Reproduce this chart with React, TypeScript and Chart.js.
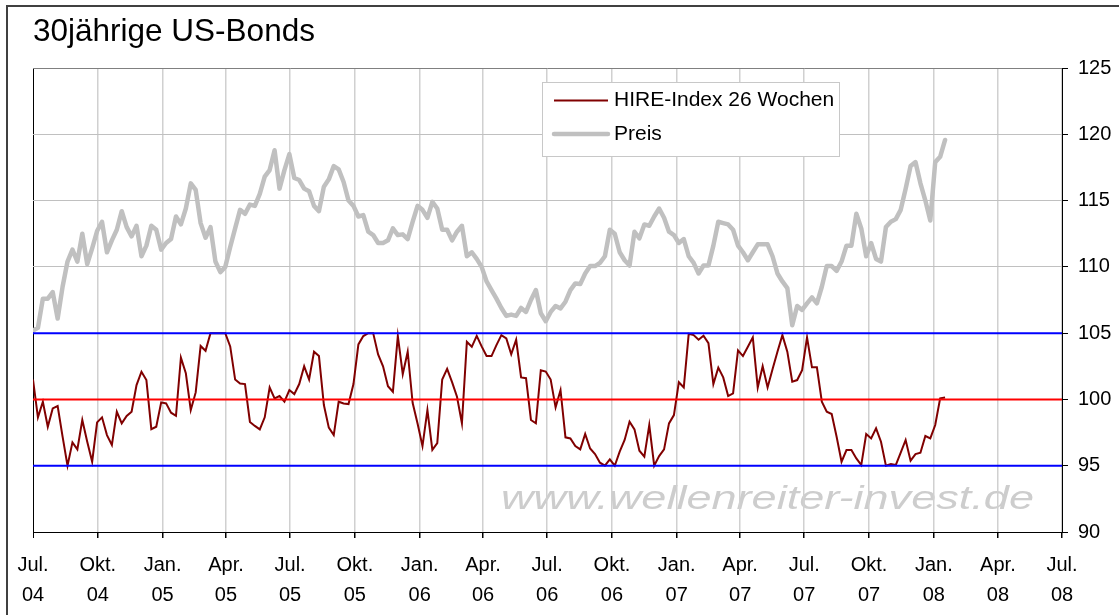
import React, { useEffect, useRef } from "react";
import { Chart, registerables } from "chart.js";

Chart.register(...registerables);

const FONT = "'Liberation Sans', Arial, Helvetica, sans-serif";

const TITLE = "30jährige US-Bonds";
const HIRE_LABEL = "HIRE-Index 26 Wochen";
const PREIS_LABEL = "Preis";
const WATERMARK = "www.wellenreiter-invest.de";

// x axis: days since 1 Jul 2004, quarterly ticks
const QUARTER_DAYS = [0, 92, 184, 274, 365, 457, 549, 639, 730, 822, 914, 1004, 1095, 1187, 1279, 1370, 1461];
const QUARTER_LABELS = [
  ["Jul.", "04"], ["Okt.", "04"], ["Jan.", "05"], ["Apr.", "05"],
  ["Jul.", "05"], ["Okt.", "05"], ["Jan.", "06"], ["Apr.", "06"],
  ["Jul.", "06"], ["Okt.", "06"], ["Jan.", "07"], ["Apr.", "07"],
  ["Jul.", "07"], ["Okt.", "07"], ["Jan.", "08"], ["Apr.", "08"],
  ["Jul.", "08"],
];
const DAYS_PER_WEEK = 7;

const Y_TICKS = [90, 95, 100, 105, 110, 115, 120, 125];
const BLUE_LEVELS = [95, 105];
const RED_LEVEL = 100;

// weekly values, starting the first week of July 2004
const PREIS = [
  105.2, 105.4, 107.6, 107.6, 108.1, 106.1, 108.5, 110.4, 111.3, 110.4,
  112.5, 110.2, 111.4, 112.7, 113.4, 111.1, 112.0, 112.8, 114.2, 113.0,
  112.3, 113.1, 110.8, 111.6, 113.1, 112.8, 111.3, 111.8, 112.1, 113.8,
  113.2, 114.4, 116.3, 115.8, 113.3, 112.2, 113.0, 110.4, 109.6, 110.0,
  111.5, 112.9, 114.3, 114.0, 114.7, 114.6, 115.5, 116.8, 117.3, 118.8,
  115.9, 117.3, 118.5, 116.7, 116.55, 115.9, 115.7, 114.6, 114.2, 116.05,
  116.6, 117.6, 117.35, 116.4, 115.0, 114.6, 113.8, 113.9, 112.65, 112.4,
  111.8, 111.8, 112.0, 112.9, 112.4, 112.45, 112.1, 113.4, 114.6, 114.3,
  113.7, 114.9, 114.4, 112.8, 112.8, 112.0, 112.65, 113.1, 110.8, 111.1,
  110.6, 110.0, 108.9, 108.25, 107.6, 106.9, 106.3, 106.4, 106.3, 106.9,
  106.6, 107.5, 108.25, 106.5, 105.9, 106.6, 107.05, 106.87, 107.37, 108.25,
  108.75, 108.7, 109.5, 110.06, 110.06, 110.3, 110.8, 112.8, 112.5, 111.1,
  110.5, 110.1, 112.65, 112.15, 113.2, 113.1, 113.8, 114.4, 113.7, 112.65,
  112.4, 111.8, 112.1, 110.8, 110.3, 109.5, 110.1, 110.1, 111.6, 113.4,
  113.3, 113.2, 112.8, 111.6, 111.1, 110.5, 111.1, 111.7, 111.7, 111.7,
  110.8, 109.5, 108.9, 108.4, 105.6, 107.05, 106.75, 107.25, 107.7, 107.25,
  108.5, 110.06, 110.06, 109.7, 110.4, 111.6, 111.6, 114.0, 112.9, 110.8,
  111.8, 110.6, 110.4, 113.0, 113.4, 113.6, 114.3, 115.9, 117.6, 117.9,
  116.3, 115.0, 113.5, 117.9, 118.3, 119.57,
];

const HIRE = [
  101.5, 98.65, 99.83, 97.94, 99.32, 99.5, 97.19, 95.0, 96.76, 96.23,
  98.45, 96.81, 95.3, 98.27, 98.65, 97.31, 96.56, 99.07, 98.19, 98.75,
  99.07, 101.08, 102.09, 101.46, 97.76, 97.94, 99.78, 99.7, 99.0, 98.77,
  103.15, 101.97, 99.2, 100.53, 104.03, 103.67, 105.0, 105.0, 105.0, 105.0,
  104.0, 101.5, 101.2, 101.16, 98.3, 98.0, 97.74, 98.65, 100.9, 100.08,
  100.26, 99.83, 100.71, 100.4, 101.16, 102.5, 101.5, 103.6, 103.27, 99.58,
  97.87, 97.31, 99.83, 99.7, 99.65, 101.16, 104.15, 104.78, 105.0, 105.0,
  103.4, 102.5, 101.0, 100.58, 104.78, 101.9, 103.6, 99.75, 98.19, 96.48,
  99.2, 96.2, 96.7, 101.5, 102.3, 101.3, 100.2, 98.2, 104.35, 103.97,
  104.8, 104.0, 103.27, 103.27, 104.1, 104.85, 104.6, 103.4, 104.5, 101.66,
  101.6, 98.45, 98.2, 102.2, 102.1, 101.5, 99.4, 100.7, 97.14, 97.06,
  96.48, 96.23, 97.39, 96.3, 95.88, 95.23, 95.0, 95.48, 95.0, 96.06,
  96.94, 98.32, 97.74, 96.13, 95.68, 98.07, 95.0, 95.73, 96.23, 98.19,
  98.82, 101.3, 100.9, 104.95, 104.85, 104.5, 104.8, 104.25, 101.16, 102.4,
  101.66, 100.25, 100.45, 103.7, 103.27, 103.97, 104.68, 100.9, 102.5, 100.9,
  102.27, 103.6, 104.85, 103.6, 101.34, 101.46, 102.2, 104.68, 102.42, 102.42,
  99.83, 99.07, 98.9, 97.19, 95.3, 96.18, 96.18, 95.55, 95.05, 97.39,
  97.06, 97.82, 96.81, 95.0, 95.13, 95.05, 95.98, 96.94, 95.38, 95.88,
  95.98, 97.24, 97.06, 98.07, 100.08, 100.15,
];

const HIRE_COLOR = "#800000";
const PREIS_COLOR = "#c0c0c0";

const frameTitleLegendPlugin = {
  id: "frameTitleLegend",
  beforeDraw(chart: any) {
    // watermark sits under the grid
    const { ctx } = chart;
    ctx.save();
    ctx.font = `italic 33px ${FONT}`;
    ctx.fillStyle = "#cdcdcd";
    ctx.textBaseline = "alphabetic";
    const w = ctx.measureText(WATERMARK).width;
    const target = 533;
    ctx.translate(501, 509);
    ctx.scale(target / w, 1);
    ctx.fillText(WATERMARK, 0, 0);
    ctx.restore();
  },
  afterDraw(chart: any) {
    const { ctx } = chart;
    ctx.save();
    // outer frame
    ctx.strokeStyle = "#404040";
    ctx.lineWidth = 2;
    ctx.beginPath();
    ctx.moveTo(7, 615);
    ctx.lineTo(7, 6);
    ctx.lineTo(1119, 6);
    ctx.stroke();

    // legend
    const items = chart.data.datasets.filter((d: any) => d.inLegend);
    const bx = 542.5, by = 82.5, bw = 297, bh = 74;
    ctx.fillStyle = "#ffffff";
    ctx.fillRect(bx, by, bw, bh);
    ctx.strokeStyle = "#c8c8c8";
    ctx.lineWidth = 1;
    ctx.strokeRect(bx, by, bw, bh);
    ctx.font = `21px ${FONT}`;
    ctx.textBaseline = "alphabetic";
    ctx.textAlign = "left";
    items.forEach((d: any, i: number) => {
      const ly = 100.5 + i * 33.5;
      ctx.strokeStyle = d.borderColor;
      ctx.lineWidth = d.borderWidth;
      ctx.lineCap = d.borderCapStyle || "butt";
      ctx.beginPath();
      ctx.moveTo(554, ly);
      ctx.lineTo(608, ly);
      ctx.stroke();
      ctx.fillStyle = "#000";
      ctx.fillText(d.label, 614, ly + 5.5);
    });
    ctx.restore();
  },
};

export default function App() {
  const ref = useRef<HTMLCanvasElement>(null);

  useEffect(() => {
    const canvas = ref.current;
    if (!canvas) return;
    const days = PREIS.map((_, i) => i * DAYS_PER_WEEK);
    const xMin = QUARTER_DAYS[0];
    const xMax = QUARTER_DAYS[QUARTER_DAYS.length - 1];
    const level = (v: number) => [
      { x: xMin, y: v },
      { x: xMax, y: v },
    ];

    const chart = new Chart(canvas, {
      type: "line",
      data: {
        datasets: [
          ...BLUE_LEVELS.map((v) => ({
            label: `Level ${v}`,
            data: level(v),
            borderColor: "#0000ff",
            borderWidth: 2,
            pointRadius: 0,
            order: 0,
          })),
          {
            label: `Level ${RED_LEVEL}`,
            data: level(RED_LEVEL),
            borderColor: "#ff0000",
            borderWidth: 2,
            pointRadius: 0,
            order: 0,
          },
          {
            label: HIRE_LABEL,
            inLegend: true,
            data: HIRE.map((v, i) => ({ x: days[i], y: v })),
            borderColor: HIRE_COLOR,
            borderWidth: 2,
            pointRadius: 0,
            tension: 0,
            order: 1,
          },
          {
            label: PREIS_LABEL,
            inLegend: true,
            data: PREIS.map((v, i) => ({ x: days[i], y: v })),
            borderColor: PREIS_COLOR,
            borderWidth: 4.5,
            borderJoinStyle: "round",
            borderCapStyle: "round",
            pointRadius: 0,
            tension: 0,
            order: 2,
          },
        ] as any,
      },
      options: {
        responsive: true,
        maintainAspectRatio: false,
        animation: false,
        events: [],
        layout: { padding: { left: 33, top: 0, right: 0, bottom: 0 } },
        plugins: {
          legend: { display: false },
          tooltip: { enabled: false },
          title: {
            display: true,
            text: TITLE,
            align: "start",
            color: "#000",
            font: { family: FONT, size: 31.5, weight: "normal", lineHeight: 1.2 },
            padding: { top: 13.7, bottom: 16.5 },
          },
        },
        scales: {
          x: {
            type: "linear",
            min: xMin,
            max: xMax,
            afterBuildTicks: (s: any) => {
              s.ticks = QUARTER_DAYS.map((v) => ({ value: v }));
            },
            afterFit: (s: any) => {
              s.height = 83;
            },
            ticks: {
              autoSkip: false,
              maxRotation: 0,
              minRotation: 0,
              padding: 12,
              color: "#000",
              font: { family: FONT, size: 20, lineHeight: 1.5 },
              callback: (_v: any, i: number) => QUARTER_LABELS[i],
            },
            grid: {
              color: (c: any) => (c.index === 0 ? "#000000" : "#d0d0d0"),
              lineWidth: (c: any) => (c.index === 0 ? 1 : 1.5),
              tickColor: "#000",
              tickLength: 6,
              drawTicks: true,
            },
            border: { color: "#000", width: 1 },
          },
          y: {
            position: "right",
            min: Y_TICKS[0],
            max: Y_TICKS[Y_TICKS.length - 1],
            afterBuildTicks: (s: any) => {
              s.ticks = Y_TICKS.map((v) => ({ value: v }));
            },
            afterFit: (s: any) => {
              s.width = 57;
            },
            ticks: {
              padding: 10,
              color: "#000",
              font: { family: FONT, size: 20 },
            },
            grid: {
              color: (c: any) => (c.tick && c.tick.value === 125 ? "#808080" : "#c0c0c0"),
              lineWidth: 1,
              tickColor: "#000",
              tickLength: 6,
            },
            border: { color: "#000", width: 1 },
          },
        },
      } as any,
      plugins: [frameTitleLegendPlugin],
    });
    return () => chart.destroy();
  }, []);

  return (
    <div style={{ position: "absolute", left: 0, top: 0, width: 1119, height: 615, background: "#fff" }}>
      <canvas ref={ref} />
    </div>
  );
}
